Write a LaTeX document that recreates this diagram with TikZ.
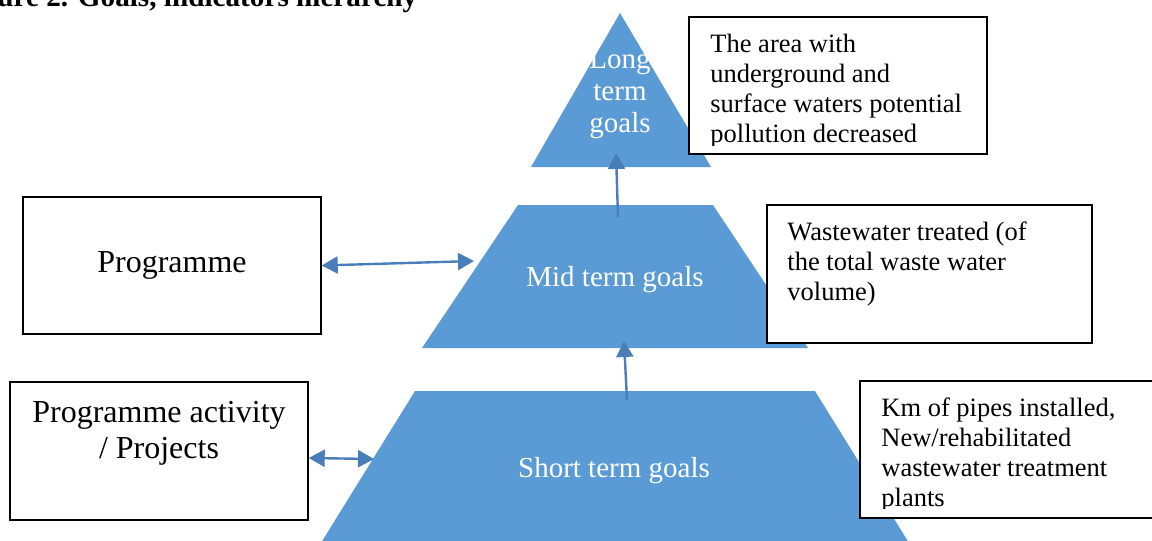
\documentclass[tikz,border=0pt]{standalone}
\usepackage{fontspec}
\setmainfont{Liberation Serif}
\usetikzlibrary{arrows.meta,positioning}
\definecolor{pyrblue}{HTML}{5B9BD5}
\definecolor{arrblue}{HTML}{4A7EBB}

\begin{document}
\begin{tikzpicture}[x=0.5pt,y=-0.5pt,
	box/.style={draw,fill=white,line width=0.7pt,inner sep=0pt},
	note/.style={anchor=base west,align=left,inner sep=0pt,font=\fontsize{13.25}{15}\selectfont},
	goal/.style={text=white,align=center,inner sep=0pt,anchor=base,font=\fontsize{14.5}{16}\selectfont},
	link/.style={arrblue,line width=1.2pt,{Triangle[length=8pt,width=8.5pt]}-{Triangle[length=8pt,width=8.5pt]}},
	up/.style={arrblue,line width=1.2pt,-{Triangle[length=8pt,width=8.5pt]}}]
	\useasboundingbox (0,0) rectangle (1152,541);
	\clip (0,0) rectangle (1152,541);
	% title
	\node[anchor=base west,inner sep=0pt,font=\bfseries\fontsize{14.6}{16}\selectfont] (title) at (-3,6)
	{ure 2. Goals, indicators hierarchy};
	% pyramid
	\fill[pyrblue] (620,13) -- (711,167) -- (531,167) -- cycle;
	\fill[pyrblue] (518,205) -- (713,205) -- (808,348) -- (422,348) -- cycle;
	\fill[pyrblue] (415,391) -- (815,391) -- (927,572) -- (303,572) -- cycle;
	\node[goal] (longgoal) at (620,132) {Long\\term\\goals};
	\node[goal] (midgoal) at (615,286) {Mid term goals};
	\node[goal] (shortgoal) at (614,477) {Short term goals};
	% left boxes
	\node[box,minimum width=149pt,minimum height=68.5pt,font=\fontsize{16}{18}\selectfont] (prog) at (172,265.5)
	{Programme};
	\node[box,minimum width=149pt,minimum height=69pt] (proj) at (159,451) {};
	\node[align=center,inner sep=0pt,anchor=base,font=\fontsize{16}{18}\selectfont] (projtext) at (159,458)
	{Programme activity\\/ Projects};
	% indicator boxes
	\node[box,minimum width=149pt,minimum height=68.5pt] (longind) at (838,85.5) {};
	\node[box,minimum width=162.5pt,minimum height=69pt] (midind) at (929.5,274) {};
	\node[box,minimum width=155pt,minimum height=68.5pt] (shortind) at (1015,449.5) {};
	\begin{scope}
		\clip (689,17) rectangle (987,145);
		\node[note] (longtext) at (710,142)
		{The area with\\underground and\\surface waters potential\\pollution decreased};
	\end{scope}
	\node[note] (midtext) at (787,300)
	{Wastewater treated (of\\the total waste water\\volume)};
	\begin{scope}
		\clip (860,381) rectangle (1170,508);
		\node[note] (shorttext) at (881,506)
		{Km of pipes installed,\\New/rehabilitated\\wastewater treatment\\plants};
	\end{scope}
	% arrows
	\coordinate (midL) at (474,261);
	\coordinate (shortL) at (374,459);
	\draw[link] (prog.east) -- (midL);
	\draw[link] ([yshift=-3.5pt]proj.east) -- (shortL);
	\coordinate (shortT) at (627,400);
	\coordinate (midB) at (624,341);
	\coordinate (midT) at (618,217);
	\coordinate (longB) at (616,153);
	\draw[up] (shortT) -- (midB);
	\draw[up] (midT) -- (longB);
\end{tikzpicture}
\end{document}
